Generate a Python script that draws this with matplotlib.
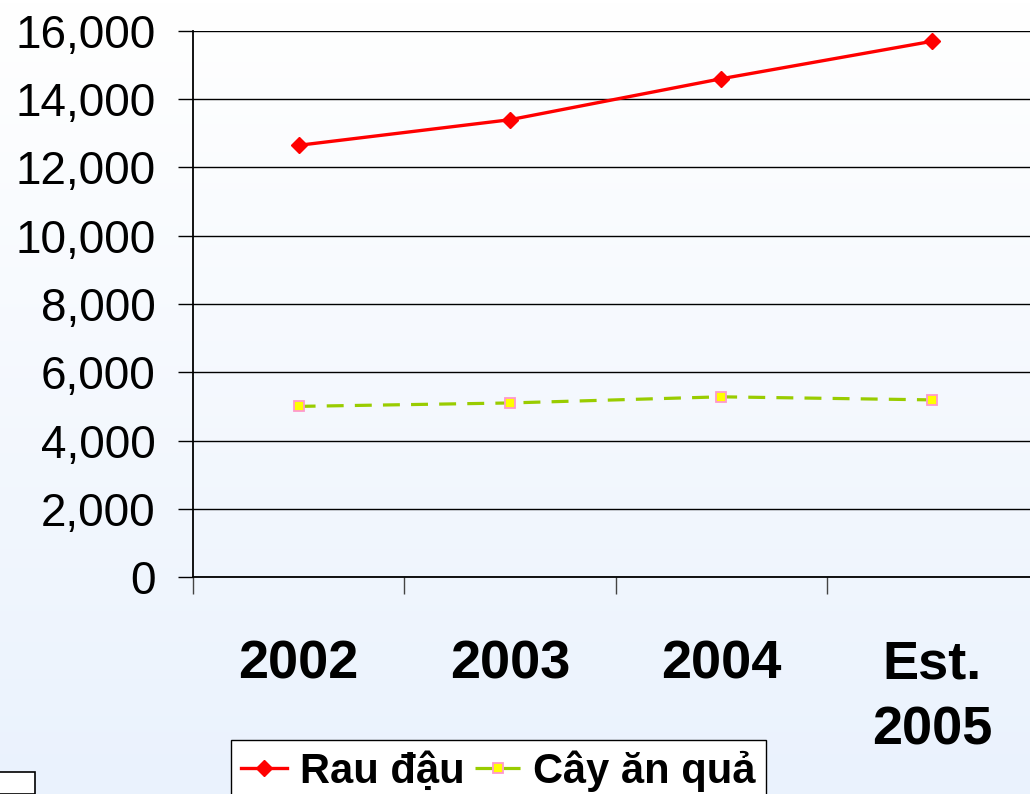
import matplotlib.pyplot as plt
import numpy as np
from matplotlib.patches import Rectangle
from matplotlib.ticker import FuncFormatter

# data
years = ['2002', '2003', '2004', 'Est.\n2005']
rau_dau = [12650, 13400, 14600, 15700]
cay_an_qua = [5000, 5100, 5280, 5190]
y_ticks = np.arange(0, 16001, 2000)

plt.rcParams['font.family'] = ['Liberation Sans', 'DejaVu Sans']

W, H = 1030, 794
fig = plt.figure(figsize=(W / 100, H / 100), dpi=100)

# light white -> blue gradient behind everything
bg = fig.add_axes([0, 0, 1, 1], zorder=-10)
top = np.array([1.0, 1.0, 1.0])
bottom = np.array([234, 242, 253]) / 255
grad = np.linspace(0, 1, 256)[:, None, None]
bg.imshow(top + (bottom - top) * grad, aspect='auto', extent=[0, 1, 0, 1], origin='upper')
bg.axis('off')

###############################################################################
# Main plot

ax = fig.add_axes([193 / W, 1 - 577 / H, 845 / W, 546 / H])
ax.patch.set_alpha(0)

x = np.arange(len(years)) + 0.5
ax.plot(x, rau_dau, color='red', lw=2.4, marker='D', ms=8.5, label='Rau đậu', clip_on=False)
ax.plot(x, cay_an_qua, color='#99cc00', lw=2.3, dashes=(5.3, 3.5), marker='s', ms=7.5,
        mfc='#ffff00', mec='#ff99cc', mew=1.3, label='Cây ăn quả', clip_on=False)

ax.set_xlim(0, 4)
ax.set_ylim(0, 16000)
ax.set_yticks(y_ticks)
ax.yaxis.set_major_formatter(FuncFormatter(lambda v, p: f'{v:,.0f}'))
ax.grid(axis='y', color='black', lw=1)
ax.set_axisbelow(True)
for s in ['top', 'right']:
    ax.spines[s].set_visible(False)
ax.spines['left'].set_linewidth(1.3)
ax.spines['bottom'].set_linewidth(1.3)

ax.set_xticks(x)
ax.set_xticklabels(years, fontsize=39, fontweight='bold', linespacing=1.4)
ax.tick_params(axis='x', which='major', length=0, pad=45)
ax.set_xticks(np.arange(5), minor=True)
ax.tick_params(axis='x', which='minor', length=12, width=1, color='#444444')
ax.tick_params(axis='y', length=11, width=1, pad=16, labelsize=33)

leg = fig.legend(loc='upper left', bbox_to_anchor=(231 / W, 1 - 740 / H),
                 prop={'size': 30, 'weight': 'bold'}, ncol=2, frameon=True,
                 fancybox=False, framealpha=1, edgecolor='black',
                 handlelength=1.1, handletextpad=0.3, columnspacing=0.25,
                 borderpad=0.25, borderaxespad=0)
leg.get_frame().set_linewidth(1)

# small white box in the lower left corner
fig.add_artist(Rectangle((-0.01, 0), 35 / W + 0.01, (794 - 772) / H, transform=fig.transFigure,
                         facecolor='white', edgecolor='black', lw=1.2))

fig.savefig('out.png', dpi=100)
